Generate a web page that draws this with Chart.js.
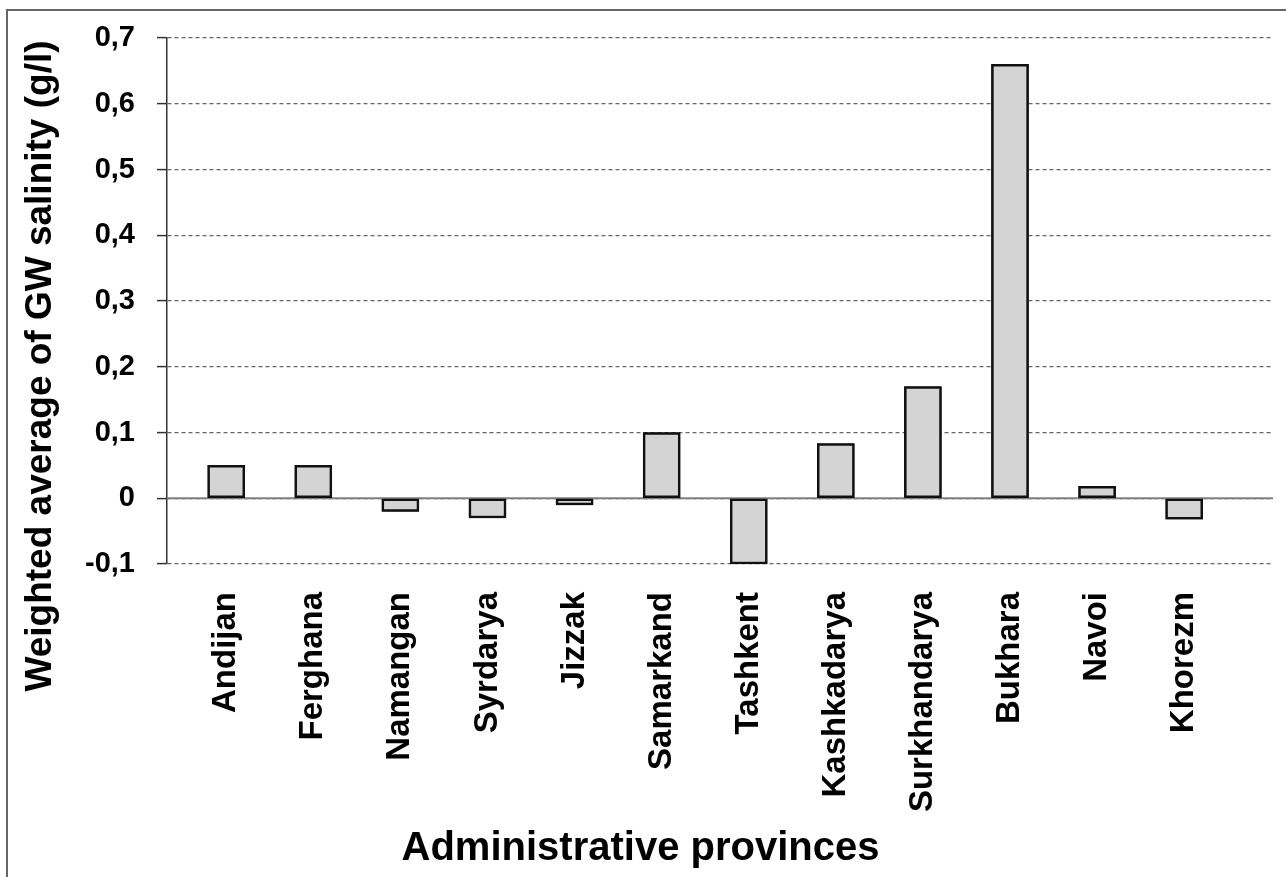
<!DOCTYPE html>
<html>
<head>
<meta charset="utf-8">
<script src="https://cdn.jsdelivr.net/npm/chart.js@4"></script>
<style>
    html, body { margin: 0; padding: 0; background: #fff; }
    #marco {
        position: absolute;
        left: 6px;
        top: 9px;
        width: 1278px;
        height: 866px;
        border-left: 2px solid #666;
        border-top: 2px solid #666;
    }
</style>
</head>
<body>
<div id="marco"><canvas id="grafico"></canvas></div>
<script>
const provincias = ['Andijan', 'Ferghana', 'Namangan', 'Syrdarya', 'Jizzak', 'Samarkand',
                    'Tashkent', 'Kashkadarya', 'Surkhandarya', 'Bukhara', 'Navoi', 'Khorezm'];
const salinidad  = [0.05, 0.05, -0.02, -0.03, -0.01, 0.10, -0.10, 0.083, 0.17, 0.66, 0.018, -0.032];
const ticksY     = [-0.1, 0, 0.1, 0.2, 0.3, 0.4, 0.5, 0.6, 0.7];

const FUENTE = '"Liberation Sans", Arial, sans-serif';

function formatoComa(v) {
    if (Math.abs(v) < 1e-9) return '0';
    return v.toFixed(1).replace('.', ',');
}

// solid line at zero and the rotated y title
const extras = {
    id: 'extras',
    afterDatasetsDraw(chart) {
        const { ctx, chartArea, scales } = chart;
        const y0 = scales.y.getPixelForValue(0);
        ctx.save();
        ctx.strokeStyle = '#808080';
        ctx.lineWidth = 2;
        ctx.beginPath();
        ctx.moveTo(chartArea.left, y0);
        ctx.lineTo(chartArea.right, y0);
        ctx.stroke();
        ctx.restore();

        // bars back on top of the zero line
        chart.getDatasetMeta(0).data.forEach(b => b.draw(ctx));
    },
    afterDraw(chart) {
        const { ctx } = chart;
        ctx.save();
        ctx.translate(33, 355);
        ctx.rotate(-Math.PI / 2);
        ctx.font = 'bold 37px ' + FUENTE;
        ctx.fillStyle = '#000';
        ctx.textAlign = 'center';
        ctx.textBaseline = 'middle';
        ctx.fillText('Weighted average of GW salinity (g/l)', 0, 0);
        ctx.restore();
    }
};

new Chart(document.getElementById('grafico'), {
    type: 'bar',
    data: {
        datasets: [{
            data: provincias.map((p, i) => ({ x: i, y: salinidad[i] })),
            backgroundColor: '#d4d4d4',
            borderColor: '#111',
            borderWidth: 2.5,
            borderSkipped: false,
            barThickness: 37
        }]
    },
    options: {
        responsive: true,
        maintainAspectRatio: false,
        animation: false,
        layout: { padding: { left: 0, top: 27, right: 13, bottom: 0 } },
        plugins: {
            legend: { display: false },
            tooltip: { enabled: false },
            title: {
                display: true,
                position: 'bottom',
                text: 'Administrative provinces',
                color: '#000',
                font: { family: FUENTE, size: 40, weight: 'bold' },
                padding: { top: 0, bottom: 4 }
            }
        },
        scales: {
            x: {
                type: 'linear',
                offset: false,
                min: -0.68,
                max: 12.02,
                afterBuildTicks: s => { s.ticks = provincias.map((p, i) => ({ value: i })); },
                afterFit: s => { s.height = 261; s.paddingLeft = 0; s.paddingRight = 0; },
                grid: { display: false, drawTicks: false },
                border: { display: false },
                ticks: {
                    autoSkip: false,
                    minRotation: 90,
                    maxRotation: 90,
                    padding: 28,
                    color: '#000',
                    font: { family: FUENTE, size: 33, weight: 'bold' },
                    callback: v => provincias[v]
                }
            },
            y: {
                min: -0.1,
                max: 0.7,
                afterBuildTicks: s => { s.ticks = ticksY.map(v => ({ value: v })); },
                afterFit: s => { s.width = 159; s.paddingTop = 0; s.paddingBottom = 0; },
                grid: {
                    color: '#666',
                    lineWidth: 1.2,
                    tickColor: '#333',
                    tickLength: 10,
                    tickWidth: 1.5
                },
                border: { display: true, color: '#333', width: 1.5, dash: [4, 3] },
                ticks: {
                    padding: 22,
                    color: '#000',
                    font: { family: FUENTE, size: 29, weight: 'bold' },
                    callback: v => formatoComa(v)
                }
            }
        }
    },
    plugins: [extras]
});
</script>
</body>
</html>
